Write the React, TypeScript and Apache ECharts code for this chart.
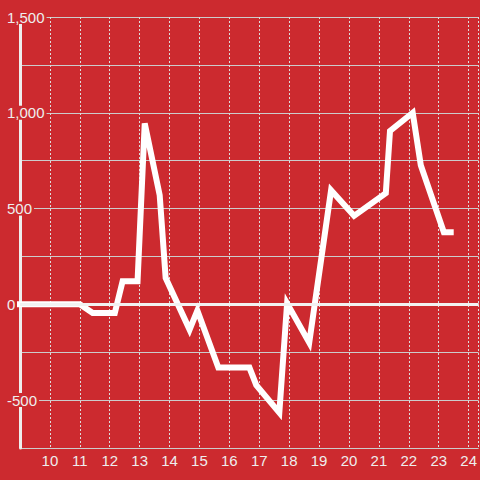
import React, { useEffect, useRef } from "react";
import * as echarts from "echarts";

const hours = [9, 11.0, 11.43, 12.17, 12.43, 12.93, 13.17, 13.67, 13.87, 14.67, 14.93, 15.63, 16.67, 16.9, 17.67, 17.93, 18.67, 19.4, 20.17, 21.23, 21.37, 22.13, 22.4, 23.17, 23.4];
const values = [0, 0, -45, -45, 120, 120, 945, 570, 138, -132, -32, -330, -330, -422, -565, 5, -200, 595, 462, 580, 905, 1000, 726, 376, 376];

const yMin = -750;
const yMax = 1500;
const yStep = 250;
const yLabelStep = 500;
const xMin = 9;
const xMax = 24.333;

const BG = "#cc2a2f";
const FONT = "Liberation Sans, Arial, sans-serif";

export default function App() {
  const ref = useRef<HTMLDivElement>(null);
  useEffect(() => {
    if (!ref.current) return;
    const chart = echarts.init(ref.current, undefined, { renderer: "svg" });
    const fmt = (v: number) =>
      v % yLabelStep === 0 ? v.toLocaleString("en-US") : "";
    chart.setOption({
      animation: false,
      backgroundColor: BG,
      grid: { left: 20, right: 0, top: 17, bottom: 32, containLabel: false },
      xAxis: {
        type: "value",
        min: xMin,
        max: xMax,
        interval: 1,
        axisLine: { show: false },
        axisTick: { show: false },
        axisLabel: {
          color: "#eee",
          fontSize: 15,
          fontFamily: FONT,
          margin: 5,
          showMinLabel: false,
          showMaxLabel: false,
        },
        splitLine: {
          show: true,
          lineStyle: { color: "#ddd", width: 1, type: [2, 2] },
        },
      },
      yAxis: [
        {
          type: "value",
          min: yMin,
          max: yMax,
          interval: yStep,
          z: 3,
          axisLine: { show: true, lineStyle: { color: "#eee", width: 3 } },
          axisTick: { show: false },
          splitLine: { show: false },
          axisLabel: {
            formatter: fmt,
            color: "#eee",
            fontSize: 15,
            fontFamily: FONT,
            align: "left",
            margin: 15,
            backgroundColor: BG,
            padding: [0, 2, 0, 2],
            lineHeight: 14,
          },
        },
        {
          type: "value",
          min: yMin,
          max: yMax,
          interval: yStep,
          z: 0,
          axisLine: { show: false },
          axisTick: { show: false },
          axisLabel: { show: false },
          splitLine: { show: true, lineStyle: { color: "#ccc", width: 1 } },
        },
      ],
      series: [
        {
          type: "line",
          yAxisIndex: 0,
          data: hours.map((h, i) => [h, values[i]]),
          showSymbol: false,
          symbol: "none",
          lineStyle: { color: "#fff", width: 6, cap: "square", join: "miter" },
          markLine: {
            silent: true,
            symbol: "none",
            label: { show: false },
            lineStyle: { color: "#f2f2f2", width: 3, type: "solid" },
            data: [{ yAxis: 0 }],
          },
        },
      ],
    });
    return () => chart.dispose();
  }, []);
  return (
    <div
      ref={ref}
      style={{ position: "fixed", left: 0, top: 0, width: 480, height: 480 }}
    />
  );
}
